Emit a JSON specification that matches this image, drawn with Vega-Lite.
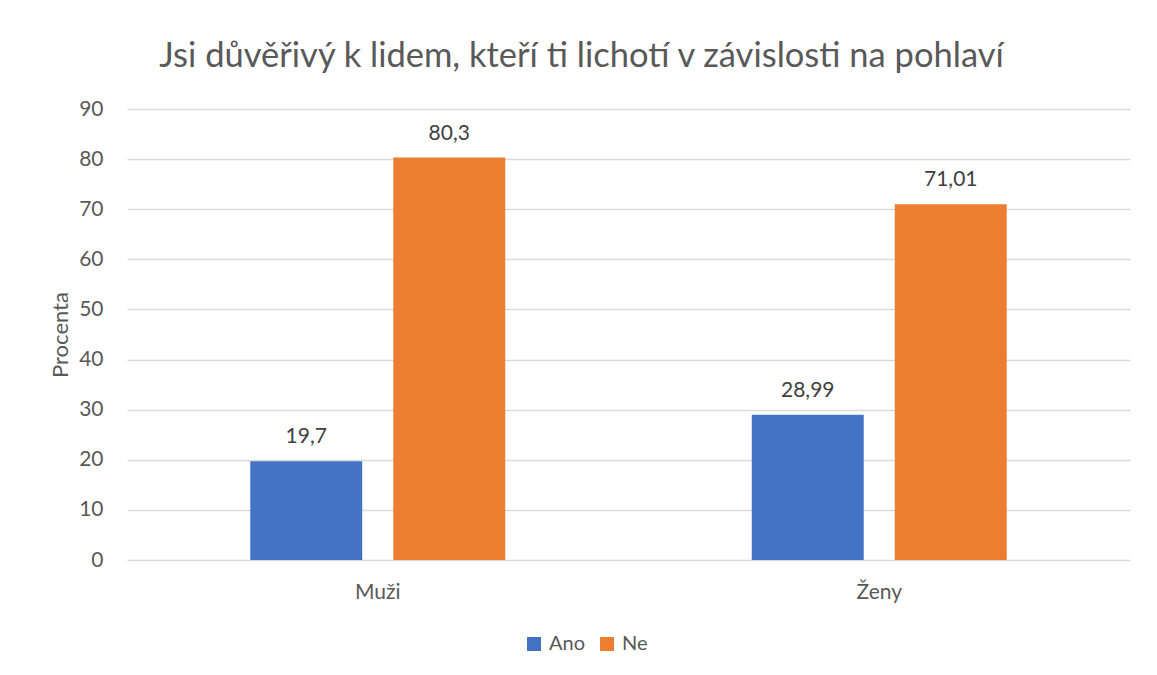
{
  "$schema": "https://vega.github.io/schema/vega-lite/v6.json",
  "autosize": {"type": "none"},
  "width": 1003,
  "height": 451,
  "padding": {"left": 127, "top": 109, "right": 27, "bottom": 115},
  "background": "white",
  "title": {
    "text": "Jsi důvěřivý k lidem, kteří ti lichotí v závislosti na pohlaví",
    "anchor": "middle",
    "dx": -47,
    "offset": 24,
    "font": "Lato",
    "fontSize": 34.5,
    "fontWeight": "normal",
    "color": "#595959"
  },
  "data": {
    "values": [
      {"pohlavi": "Muži", "odpoved": "Ano", "procenta": 19.7, "label": "19,7"},
      {"pohlavi": "Muži", "odpoved": "Ne", "procenta": 80.3, "label": "80,3"},
      {"pohlavi": "Ženy", "odpoved": "Ano", "procenta": 28.99, "label": "28,99"},
      {"pohlavi": "Ženy", "odpoved": "Ne", "procenta": 71.01, "label": "71,01"}
    ]
  },
  "encoding": {
    "x": {
      "field": "pohlavi",
      "type": "nominal",
      "sort": ["Muži", "Ženy"],
      "scale": {"paddingInner": 0, "paddingOuter": 0},
      "axis": {
        "title": null,
        "labelAngle": 0,
        "ticks": false,
        "domain": false,
        "labelPadding": 38,
        "labelBaseline": "alphabetic",
        "labelFont": "Lato",
        "labelFontSize": 21,
        "labelColor": "#595959"
      }
    },
    "xOffset": {
      "field": "odpoved",
      "type": "nominal",
      "sort": ["Ano", "Ne"],
      "scale": {"paddingInner": 0.217, "paddingOuter": 0.862}
    },
    "y": {
      "field": "procenta",
      "type": "quantitative",
      "scale": {"domain": [0, 90], "nice": false},
      "axis": {
        "title": "Procenta",
        "values": [0, 10, 20, 30, 40, 50, 60, 70, 80, 90],
        "ticks": false,
        "domain": false,
        "labelPadding": 24,
        "labelFont": "Lato",
        "labelFontSize": 21,
        "labelColor": "#595959",
        "titleFont": "Lato",
        "titleFontSize": 22,
        "titleFontWeight": "normal",
        "titleColor": "#595959",
        "titlePadding": 6,
        "gridColor": "#D9D9D9",
        "gridWidth": 1.3
      }
    }
  },
  "layer": [
    {
      "mark": {"type": "bar"},
      "encoding": {
        "color": {
          "field": "odpoved",
          "type": "nominal",
          "sort": ["Ano", "Ne"],
          "scale": {"domain": ["Ano", "Ne"], "range": ["#4472C4", "#ED7D31"]},
          "legend": {
            "title": null,
            "orient": "none",
            "direction": "horizontal",
            "legendX": 397,
            "legendY": 525,
            "symbolType": "square",
            "symbolSize": 196,
            "symbolStrokeWidth": 0,
            "labelFont": "Lato",
            "labelFontSize": 20,
            "labelColor": "#595959",
            "columnPadding": 12,
            "labelOffset": 5
          }
        }
      }
    },
    {
      "mark": {
        "type": "text",
        "baseline": "alphabetic",
        "dy": -18,
        "font": "Lato",
        "fontSize": 21,
        "color": "#404040"
      },
      "encoding": {"text": {"field": "label"}}
    }
  ],
  "config": {"view": {"stroke": null}}
}
